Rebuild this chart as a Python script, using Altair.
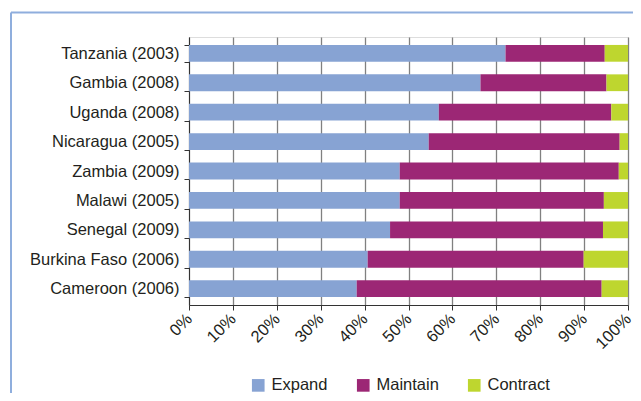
import altair as alt
import pandas as pd

countries = ["Tanzania (2003)", "Gambia (2008)", "Uganda (2008)", "Nicaragua (2005)",
             "Zambia (2009)", "Malawi (2005)", "Senegal (2009)", "Burkina Faso (2006)",
             "Cameroon (2006)"]
expand = [72.1, 66.4, 56.9, 54.6, 48.0, 48.0, 45.8, 40.7, 38.2]
maintain = [22.6, 28.7, 39.3, 43.5, 49.9, 46.5, 48.5, 49.2, 55.8]
contract = [5.3, 4.9, 3.8, 1.9, 2.1, 5.5, 5.7, 10.1, 6.0]
categories = ["Expand", "Maintain", "Contract"]
colors = ["#87A3D3", "#9C2775", "#BED62F"]
tick_values = [i / 10 for i in range(11)]

rows = []
for i, c in enumerate(countries):
    for k, (cat, vals) in enumerate(zip(categories, [expand, maintain, contract])):
        rows.append({"Country": c, "Category": cat, "Value": vals[i], "Order": k})
df = pd.DataFrame(rows)

FONT = "Liberation Sans"

bars = alt.Chart(df).mark_bar().encode(
    y=alt.Y("Country:N", sort=countries, title=None,
            scale=alt.Scale(paddingInner=0.43, paddingOuter=0.27),
            axis=alt.Axis(labelFontSize=16.5, labelFont=FONT, labelColor="#231f20",
                          tickBand="extent", tickSize=5, tickColor="#333333",
                          domainColor="#333333", labelPadding=5, grid=False)),
    x=alt.X("Value:Q", stack="normalize", title=None,
            scale=alt.Scale(domain=[0, 1], nice=False),
            axis=alt.Axis(values=tick_values, format=".0%", labelAngle=-45,
                          labelAlign="right", labelBaseline="middle",
                          labelFontSize=16.5, labelFont=FONT, labelColor="#231f20",
                          tickSize=5, tickColor="#333333", domainColor="#333333",
                          grid=True, gridColor="#808080", gridWidth=1.3,
                          labelPadding=6, labelFlush=False, labelOverlap=False)),
    color=alt.Color("Category:N", sort=categories,
                    scale=alt.Scale(domain=categories, range=colors),
                    legend=alt.Legend(title=None, orient="none", direction="horizontal",
                                      legendX=61, legendY=340, symbolType="square",
                                      symbolSize=160, symbolStrokeWidth=0,
                                      labelFontSize=16.5, labelFont=FONT,
                                      labelColor="#231f20", columnPadding=27,
                                      labelOffset=5)),
    order=alt.Order("Order:Q"),
)

border_top = alt.Chart(pd.DataFrame({"a": [0]})).mark_rule(
    color="#8FAEDD", strokeWidth=2).encode(
    x=alt.value(-178), x2=alt.value(470), y=alt.value(-24.5))
border_left = alt.Chart(pd.DataFrame({"a": [0]})).mark_rule(
    color="#8FAEDD", strokeWidth=2).encode(
    x=alt.value(-178), y=alt.value(-24.5), y2=alt.value(400))

chart = alt.layer(border_top, border_left, bars).properties(
    width=439, height=268,
    autosize=alt.AutoSizeParams(type="none"),
    padding={"left": 181, "top": 29, "right": 5, "bottom": 88},
).configure_view(stroke="#333333", strokeWidth=1.2).configure(background="white")

chart.save("out.html", embed_options={"renderer": "svg", "actions": False})
